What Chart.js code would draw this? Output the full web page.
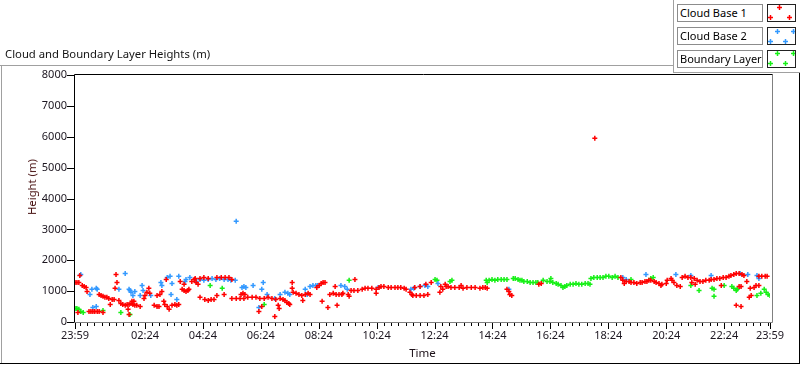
<!DOCTYPE html>
<html>
<head>
<meta charset="utf-8">
<title>Cloud and Boundary Layer Heights</title>
<script src="https://cdn.jsdelivr.net/npm/chart.js@4.4.1/dist/chart.umd.min.js"></script>
<style>
  html, body { margin: 0; padding: 0; background: #fff; }
  * { box-sizing: border-box; }
  #wrap { position: relative; width: 800px; height: 365px; overflow: hidden; font-family: 'Noto Sans', sans-serif; }
  #plot { position: absolute; left: 0; top: 0; }
  .ln { position: absolute; }
  .caption { position: absolute; left: 5px; top: 46px; font-size: 11.3px; line-height: 16px; color: #141414; white-space: nowrap; }
  #ytitle { position: absolute; left: 32px; top: 187px; transform: translate(-50%, -50%) rotate(-90deg); font-size: 11.3px; line-height: 14px; color: #4a1414; white-space: nowrap; }
  .lg-label { position: absolute; left: 677px; width: 86px; height: 18px; border: 1px solid #8c8c8c; background: #fff; font-size: 11px; line-height: 16px; padding-left: 2px; color: #000; white-space: nowrap; overflow: hidden; }
  .lg-mark { position: absolute; left: 767px; width: 29px; height: 18px; border: 1px solid #222; background: #fff; }
  .lg-mark svg { position: absolute; left: 0; top: 0; }
</style>
</head>
<body>
<div id="wrap">
  <canvas id="plot" width="800" height="365"></canvas>

  <!-- panel frame -->
  <div class="ln" style="left:0;top:65px;width:674px;height:1px;background:#a0a0a0"></div>
  <div class="ln" style="left:1px;top:65px;width:1px;height:299px;background:#a0a0a0"></div>
  <div class="ln" style="left:0;top:363px;width:800px;height:1px;background:#000"></div>
  <div class="ln" style="left:799px;top:72px;width:1px;height:292px;background:#000"></div>
  <div class="ln" style="left:673px;top:0;width:1px;height:73px;background:#a0a0a0"></div>
  <div class="ln" style="left:673px;top:72px;width:127px;height:1px;background:#a0a0a0"></div>

  <div class="caption">Cloud and Boundary Layer Heights (m)</div>
  <div id="ytitle">Height (m)</div>

  <div class="lg-label" style="top:4px">Cloud Base 1</div>
  <div class="lg-mark" style="top:4px" data-series="0"></div>
  <div class="lg-label" style="top:27px">Cloud Base 2</div>
  <div class="lg-mark" style="top:27px" data-series="1"></div>
  <div class="lg-label" style="top:50px">Boundary Layer</div>
  <div class="lg-mark" style="top:50px" data-series="2"></div>
</div>

<script>
// Time in minutes after 23:59, height in metres.
const cloudBase1 = [
  [0,1280],[4,1280],[8,1280],[10,1510],[15,1180],[19,1150],[23,1120],[25,990],[6,310],
  [29,340],[33,340],[37,340],[41,340],[46,340],[50,340],[58,310],
  [50,890],[54,860],[58,830],[62,800],[66,800],[70,760],[77,730],[81,730],[73,570],
  [85,1540],[87,1280],[83,1090],
  [91,700],[95,600],[99,570],[104,540],[108,570],[112,570],[116,600],[120,570],[124,540],
  [110,410],[112,240],[118,670],[122,670],[128,540],[135,500],
  [143,760],[145,860],[149,960],[153,1090],[155,930],
  [164,540],[170,500],[174,500],[170,860],[176,890],[180,990],[189,1380],
  [186,570],[191,500],[195,410],[201,540],[207,570],[211,540],[215,570],[184,670],
  [218,1310],[222,1060],[226,1020],[230,990],[234,1020],[236,1060],[226,1220],
  [242,1310],[247,1380],[251,1280],[255,1220],[249,1410],[259,1410],[267,1440],[276,1410],
  [259,800],[269,730],[276,700],[282,730],[288,730],
  [294,1440],[303,1440],[311,1440],[319,1440],[325,1380],
  [309,890],[294,860],[344,890],[348,930],[352,890],
  [325,760],[334,760],[342,760],[350,760],[358,800],[367,800],[375,800],[383,760],
  [392,760],[400,800],[408,760],[416,730],[425,760],[431,730],
  [381,340],[387,500],[421,540],[423,440],[414,180],
  [435,700],[439,630],[443,600],[445,570],
  [450,1090],[450,1280],[452,960],[458,930],[464,890],[470,860],[477,890],[483,930],[487,890],[472,700],
  [501,1120],[506,1180],[510,1250],[514,1280],[518,1280],[512,670],[524,470],
  [528,890],[535,930],[541,890],[547,890],[553,890],[555,930],[539,1150],[543,540],[566,890],[580,1380],
  [568,830],[572,1020],[578,1020],[586,1020],[595,1060],[601,1090],[607,1090],[615,1090],
  [624,1060],[624,930],[630,1120],[634,1150],[640,1150],[649,1120],[655,1120],[663,1120],
  [669,1120],[675,1120],[682,1090],[686,1060],
  [694,960],[698,890],[700,860],[707,860],[715,860],[723,860],[731,890],
  [704,1120],[715,1150],[727,1220],[738,1280],
  [756,960],[762,1060],[758,1150],[767,1220],
  [769,1150],[773,1150],[779,1120],[787,1120],[796,1120],[800,1180],[804,1090],[812,1120],
  [821,1120],[829,1120],[839,1090],[845,1120],[850,1120],[854,1090],
  [895,1060],[899,990],[901,890],[905,860],[961,1220],[966,1250],
  [1077,5950],
  [1131,1440],[1135,1350],[1138,1250],
  [1142,1310],[1148,1310],[1152,1280],[1158,1280],[1164,1250],[1171,1280],[1175,1280],
  [1181,1310],[1185,1310],[1189,1350],[1193,1350],[1200,1310],[1204,1280],[1210,1250],
  [1216,1220],[1214,1180],[1225,1250],[1227,1350],[1235,1410],[1237,1350],[1241,1280],
  [1247,1180],[1254,1150],[1258,1440],[1264,1480],[1270,1440],[1276,1440],[1283,1410],
  [1278,1280],[1285,1220],[1289,1350],[1295,1310],[1301,1310],[1307,1350],[1314,1350],
  [1318,1380],[1324,1380],[1330,1410],[1336,1410],[1343,1440],[1349,1440],[1355,1480],
  [1359,1510],[1365,1540],[1370,1570],[1376,1570],[1382,1540],[1386,1510],
  [1339,1180],[1376,1150],[1380,1150],[1370,540],[1380,500],[1397,800],
  [1392,1310],[1399,1090],[1401,860],[1407,1120],[1411,1180],[1417,1180],
  [1417,1480],[1423,1480],[1430,1480],[1434,1480]
];

const cloudBase2 = [
  [12,1540],[31,890],[35,1060],[44,1090],[46,1060],[37,470],[44,500],
  [91,1060],[104,1570],[112,1060],[114,1020],[116,960],[120,860],[124,990],
  [135,860],[139,1180],[141,1020],[157,860],[178,1280],[180,1180],
  [191,1440],[197,1480],[199,890],[201,1250],[211,730],[215,1480],
  [228,1310],[230,1380],[238,1440],[251,1310],[259,1380],[267,1350],[276,1380],
  [284,1410],[292,1380],[300,1410],[309,1380],[317,1380],[323,1350],[332,1350],
  [334,3260],
  [346,1120],[350,1150],[354,1120],[369,1180],[387,1060],[390,1280],[381,470],
  [398,890],[414,760],[425,890],[435,960],[441,930],[445,890],
  [477,1060],[481,890],[487,1150],[493,1180],[499,1180],[503,1180],
  [551,1180],[559,1150],[564,1060],[628,1120],
  [696,1060],[702,1090],[715,1150],[725,1180],[731,1150],[752,1250],[899,1060],
  [1135,1440],[1142,1380],[1183,1540],[1245,1540],[1276,1510],[1318,1510],
  [1378,1570],[1394,1540],[1413,1510],[1417,1410]
];

const boundaryLayer = [
  [2,440],[4,440],[8,410],[12,340],[17,310],[58,370],[95,310],[114,240],
  [280,1180],[305,1090],[392,570],[568,1350],
  [746,1380],[750,1350],[777,1310],[781,1350],
  [852,1350],[854,1280],[858,1350],[864,1380],[870,1350],[876,1380],[883,1380],[889,1380],[895,1380],
  [908,1410],[912,1410],[918,1380],[922,1350],[926,1350],[930,1310],[937,1310],
  [943,1280],[949,1280],[955,1280],[959,1280],
  [970,1350],[978,1310],[986,1410],[984,1310],[990,1280],[997,1250],[1001,1220],
  [1007,1180],[1011,1120],[1015,1150],[1019,1180],[1026,1220],[1032,1220],[1038,1250],
  [1044,1220],[1050,1220],[1057,1250],[1063,1250],[1067,1220],
  [1069,1410],[1075,1440],[1082,1440],[1088,1440],[1094,1440],[1100,1480],[1106,1480],
  [1113,1440],[1119,1480],[1125,1440],
  [1152,1380],[1193,1410],[1198,1440],[1276,1180],[1293,1020],[1320,1090],[1324,1060],
  [1324,830],[1345,1180],[1361,1150],[1365,1090],[1370,1020],[1372,1060],
  [1413,860],[1421,930],[1428,1060],[1432,960],[1436,890],[1440,860]
];

const seriesNames = ['Cloud Base 1', 'Cloud Base 2', 'Boundary Layer'];
const seriesColors = ['#ff0000', '#3399ff', '#16f016'];

// labelled x ticks (minutes after 23:59) and their texts
const xMajorTicks = [0, 145, 265, 385, 505, 625, 745, 865, 985, 1105, 1225, 1345, 1440];
const xTickLabels = ['23:59', '02:24', '04:24', '06:24', '08:24', '10:24', '12:24',
                     '14:24', '16:24', '18:24', '20:24', '22:24', '23:59'];
const yTickStep = 1000;

// minor ticks every 15 min, lined up on hh:09/:24/:39/:54
const xAllTicks = [0];
for (let m = 10; m < 1440; m += 15) xAllTicks.push(m);
xAllTicks.push(1440);

const TICK_TEXT = '#1c1620';

// Plot frame plus tick marks (major ones longer), drawn off the library scales.
const frameTicks = {
  id: 'frameTicks',
  beforeDatasetsDraw(chart) {
    const { ctx, chartArea: a, scales: { x, y } } = chart;
    const L = a.left - 0.5, T = a.top - 0.5, R = a.right + 2.5, B = a.bottom + 0.5;
    ctx.save();
    ctx.lineWidth = 1;
    ctx.strokeStyle = '#808080';
    ctx.beginPath();
    ctx.moveTo(R, T); ctx.lineTo(R, B); ctx.lineTo(L, B);
    ctx.stroke();
    ctx.strokeStyle = '#000';
    ctx.beginPath();
    ctx.moveTo(L, B); ctx.lineTo(L, T); ctx.lineTo(R, T);
    ctx.stroke();

    ctx.beginPath();
    x.ticks.forEach(t => {
      const px = Math.round(x.getPixelForValue(t.value)) + 0.5;
      const len = xMajorTicks.includes(t.value) ? 6 : 3;
      ctx.moveTo(px, a.bottom + 1);
      ctx.lineTo(px, a.bottom + 1 + len);
    });
    y.ticks.forEach(t => {
      const py = Math.round(y.getPixelForValue(t.value)) + 0.5;
      ctx.moveTo(a.left - 8, py);
      ctx.lineTo(a.left - 1, py);
    });
    ctx.stroke();
    ctx.restore();
  }
};

const toPoints = arr => arr.map(([t, h]) => ({ x: t, y: h }));
const makeSet = (i, arr) => ({
  label: seriesNames[i],
  data: toPoints(arr),
  pointStyle: 'cross',
  pointRadius: 2.5,
  pointBorderWidth: 1.5,
  borderColor: seriesColors[i],
  backgroundColor: seriesColors[i],
  showLine: false,
});

Chart.defaults.font.family = "'Noto Sans', sans-serif";

new Chart(document.getElementById('plot'), {
  type: 'scatter',
  data: {
    datasets: [makeSet(0, cloudBase1), makeSet(1, cloudBase2), makeSet(2, boundaryLayer)],
  },
  options: {
    responsive: false,
    animation: false,
    events: [],
    layout: { padding: { left: 0, top: 75, right: 30, bottom: 0 } },
    plugins: { legend: { display: false }, tooltip: { enabled: false } },
    scales: {
      x: {
        type: 'linear', min: 0, max: 1440,
        grid: { display: false, drawTicks: false },
        border: { display: false },
        afterBuildTicks: s => { s.ticks = xAllTicks.map(v => ({ value: v })); },
        afterFit: s => { s.height = 43; },
        ticks: {
          autoSkip: false, maxRotation: 0, padding: 7, color: TICK_TEXT, font: { size: 11 },
          callback: v => { const i = xMajorTicks.indexOf(v); return i >= 0 ? xTickLabels[i] : ''; },
        },
        title: { display: true, text: 'Time', color: '#1c1018', font: { size: 11.5 }, padding: { top: 0, bottom: 4 } },
      },
      y: {
        min: 0, max: 8000,
        grid: { display: false, drawTicks: false },
        border: { display: false },
        afterFit: s => { s.width = 75; },
        ticks: { stepSize: yTickStep, padding: 8, color: TICK_TEXT, font: { size: 11 }, callback: v => String(v) },
      },
    },
  },
  plugins: [frameTicks],
});

// legend sample boxes: a few crosses in each, like the front panel
const legendCrosses = [
  [[11, 2], [2, 12], [21, 12]],
  [[9, 3], [25, 3], [2, 13], [17, 13]],
  [[9, 2], [25, 2], [2, 12], [17, 12]],
];
document.querySelectorAll('.lg-mark').forEach(box => {
  const i = +box.dataset.series;
  const c = seriesColors[i];
  const lines = legendCrosses[i].map(([cx, cy]) =>
    `<line x1="${cx - 2}" y1="${cy + 0.5}" x2="${cx + 3}" y2="${cy + 0.5}"/>` +
    `<line x1="${cx + 0.5}" y1="${cy - 2}" x2="${cx + 0.5}" y2="${cy + 3}"/>`).join('');
  box.innerHTML = `<svg width="27" height="16"><g stroke="${c}" stroke-width="1.5" fill="none">${lines}</g></svg>`;
});
</script>
</body>
</html>
